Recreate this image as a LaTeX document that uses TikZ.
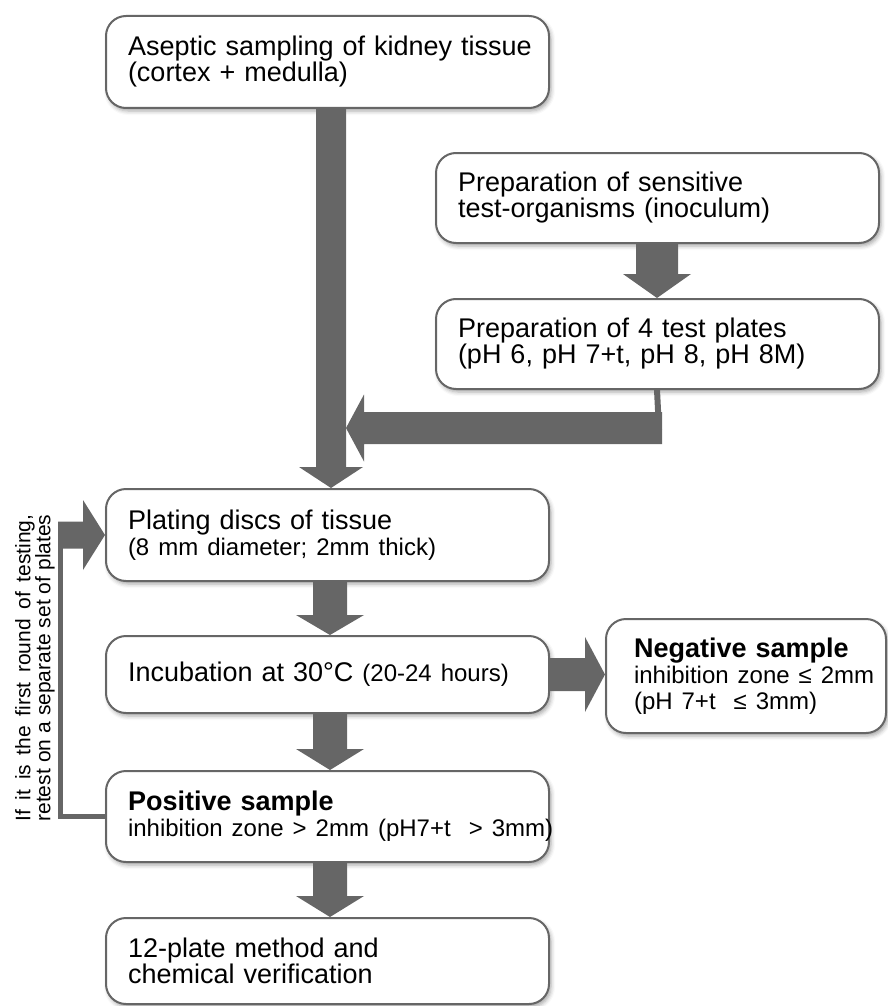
\documentclass[tikz,border=0pt]{standalone}
\usepackage{fontspec}
\setmainfont{Liberation Sans}
\usetikzlibrary{calc,shadows.blur}
\definecolor{ag}{HTML}{666666}
\newcommand\fA{\fontsize{27}{26}\selectfont}
\newcommand\fB{\fontsize{24}{26}\selectfont}
\newcommand\oneline[1]{\mbox{#1}}
% vertical block arrow: start, tip, shaft half width, head half width, signed head length
\newcommand\varrow[5]{\fill[ag] ($(#1)+(-#3,0)$) -- ($(#2)+(-#3,#5)$) -- ($(#2)+(-#4,#5)$) -- (#2) -- ($(#2)+(#4,#5)$) -- ($(#2)+(#3,#5)$) -- ($(#1)+(#3,0)$) -- cycle;}
% horizontal block arrow
\newcommand\harrow[5]{\fill[ag] ($(#1)+(0,-#3)$) -- ($(#2)+(#5,-#3)$) -- ($(#2)+(#5,-#4)$) -- (#2) -- ($(#2)+(#5,#4)$) -- ($(#2)+(#5,#3)$) -- ($(#1)+(0,#3)$) -- cycle;}
\tikzset{
  box/.style={draw=ag, line width=2pt, rounded corners=20pt, fill=white,
    inner ysep=0pt, align=left, anchor=north west, font=\fA,
    blur shadow={shadow xshift=2pt, shadow yshift=-3pt, shadow blur radius=4pt, shadow opacity=35}},
  wide/.style={minimum width=443pt, text width=399pt, inner xsep=22pt},
  thinline/.style={draw=ag, line width=#1},
}
\begin{document}
\begin{tikzpicture}[x=1pt,y=-1pt]
\useasboundingbox (0,0) rectangle (887,1006);

% boxes
\node[box, wide, minimum height=92pt] (b1) at (105,15) {\oneline{Aseptic sampling of kidney tissue}\\\oneline{(cortex + medulla)}};
\node[box, wide, minimum height=90pt] (b2) at (435,152) {\oneline{Preparation of sensitive}\\\oneline{test-organisms (inoculum)}};
\node[box, wide, minimum height=90pt] (b3) at (435,298) {\oneline{Preparation of 4 test plates}\\\oneline{(pH 6, pH 7+t, pH 8, pH 8M)}};
\node[box, wide, minimum height=92pt] (b4) at (105,488) {\oneline{Plating discs of tissue}\\\oneline{\fB (8 mm diameter; 2mm thick)}};
\node[box, wide, minimum height=77pt] (b5) at (105,635) {\oneline{Incubation at 30°C {\fB(20-24 hours)}}};
\node[box, wide, minimum height=91pt] (b6) at (105,770) {\oneline{\textbf{Positive sample}}\\\oneline{\fB inhibition zone > 2mm (pH7+t\ \ > 3mm)}};
\node[box, wide, minimum height=86pt] (b7) at (105,917) {\oneline{12-plate method and}\\\oneline{chemical verification}};
\node[box, minimum width=280pt, text width=224pt, inner xsep=28pt, minimum height=114pt] (b8) at (605,618) {\oneline{\textbf{Negative sample}}\\\oneline{\fB inhibition zone ≤ 2mm}\\\oneline{\fB (pH 7+t\ \ ≤ 3mm)}};

% side note
\node[rotate=90, align=left, inner sep=0pt, font=\fontsize{21}{20}\selectfont] (note) at (35,668)
  {\makebox[307pt][s]{If it is the first round of testing,}\\\makebox[307pt][s]{retest on a separate set of plates}};

% arrow anchors
\coordinate (a1s) at (331,0 |- b1.south);
\coordinate (a1t) at (331,0 |- b4.north);
\coordinate (a2s) at (657,0 |- b2.south);
\coordinate (a2t) at (657,0 |- b3.north);
\coordinate (a3s) at (662,428);
\coordinate (a3t) at (346,428);
\coordinate (a4s) at (330,0 |- b4.south);
\coordinate (a4t) at (330,0 |- b5.north);
\coordinate (a5s) at (330,0 |- b5.south);
\coordinate (a5t) at (330,0 |- b6.north);
\coordinate (a6s) at (330,0 |- b6.south);
\coordinate (a6t) at (330,0 |- b7.north);
\coordinate (a7t) at (b5.east -| b8.west);
\coordinate (a8s) at (58,0 |- b4.west);

% arrows
\varrow{a1s}{a1t}{15}{32}{-21}
\varrow{a2s}{a2t}{21}{34}{-24}
\draw[thinline=6pt] (a2s |- b3.south) -- (659,430);
\harrow{a3s}{a3t}{16}{33.5}{18}
\varrow{a4s}{a4t}{17}{34}{-20}
\varrow{a5s}{a5t}{17}{34}{-21}
\varrow{a6s}{a6t}{17}{34}{-21}
\harrow{b5.east}{a7t}{16.5}{37.5}{-20}
\draw[thinline=5pt] (b6.west) -| (60.5,534);
\harrow{a8s}{b4.west}{13.5}{35}{-22}
\end{tikzpicture}
\end{document}
